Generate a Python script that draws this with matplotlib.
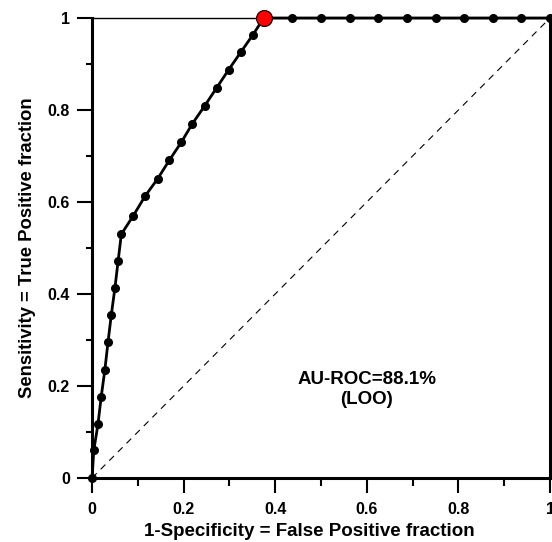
import matplotlib
matplotlib.use("Agg")
import matplotlib.pyplot as plt
from matplotlib.ticker import MultipleLocator

plt.rcParams['font.family'] = ['Liberation Sans', 'DejaVu Sans']
plt.rcParams['font.weight'] = 'bold'

# ROC points
fpr = [0.0, 0.004, 0.013, 0.020, 0.028, 0.035, 0.042, 0.050, 0.057, 0.064,
       0.090, 0.116, 0.143, 0.169, 0.195, 0.219, 0.246, 0.272, 0.298, 0.325,
       0.351, 0.375, 0.4375, 0.5, 0.5625, 0.625, 0.6875, 0.75, 0.8125,
       0.875, 0.9375, 1.0]
tpr = [0.0, 0.061, 0.117, 0.176, 0.235, 0.296, 0.354, 0.413, 0.472, 0.530,
       0.570, 0.613, 0.650, 0.691, 0.730, 0.770, 0.809, 0.848, 0.887, 0.926,
       0.963, 1.0, 1.0, 1.0, 1.0, 1.0, 1.0, 1.0, 1.0, 1.0, 1.0, 1.0]
best = (0.375, 1.0)
auc_text = "AU-ROC=88.1%\n(LOO)"
ticks = [0, 0.2, 0.4, 0.6, 0.8, 1.0]
tick_labels = ['0', '0.2', '0.4', '0.6', '0.8', '1']

fig = plt.figure(figsize=(5.52, 5.42), dpi=100)
ax = fig.add_axes([0.1667, 0.1181, 0.8297, 0.8487])

ax.plot([0, 1], [0, 1], color='black', lw=0.8, ls=(0, (6, 5)))
ax.plot(fpr, tpr, color='black', lw=2, marker='o', ms=5.5, zorder=3,
        clip_on=False)
ax.plot(*best, marker='o', ms=11.5, mfc='red', mec='black', mew=0.8,
        zorder=4, clip_on=False)

ax.text(0.60, 0.193, auc_text, ha='center', va='center', fontsize=13.5,
        fontweight='bold', linespacing=1.2)

ax.set_xlim(0, 1)
ax.set_ylim(0, 1)
ax.set_xticks(ticks)
ax.set_xticklabels(tick_labels)
ax.set_yticks(ticks)
ax.set_yticklabels(tick_labels)
ax.xaxis.set_minor_locator(MultipleLocator(0.1))
ax.yaxis.set_minor_locator(MultipleLocator(0.1))

ax.tick_params(which='major', direction='out', length=11, width=1.5,
               labelsize=11.5, pad=5)
ax.tick_params(axis='x', which='major', pad=6.5)
ax.tick_params(axis='x', which='minor', direction='out', length=6, width=1.5)
ax.tick_params(axis='y', which='minor', direction='out', length=4, width=1.5)

ax.spines['left'].set_linewidth(2.2)
ax.spines['bottom'].set_linewidth(2.2)
ax.spines['right'].set_linewidth(2.2)
ax.spines['top'].set_linewidth(1)

ax.set_xlabel('1-Specificity = False Positive fraction', fontsize=13.5,
              fontweight='bold', va='baseline')
ax.xaxis.set_label_coords(0.474, -0.126)
ax.set_ylabel('Sensitivity = True Positive fraction', fontsize=13.3,
              fontweight='bold', va='center')
ax.yaxis.set_label_coords(-0.14, 0.5)

fig.savefig('out.png', dpi=100)
